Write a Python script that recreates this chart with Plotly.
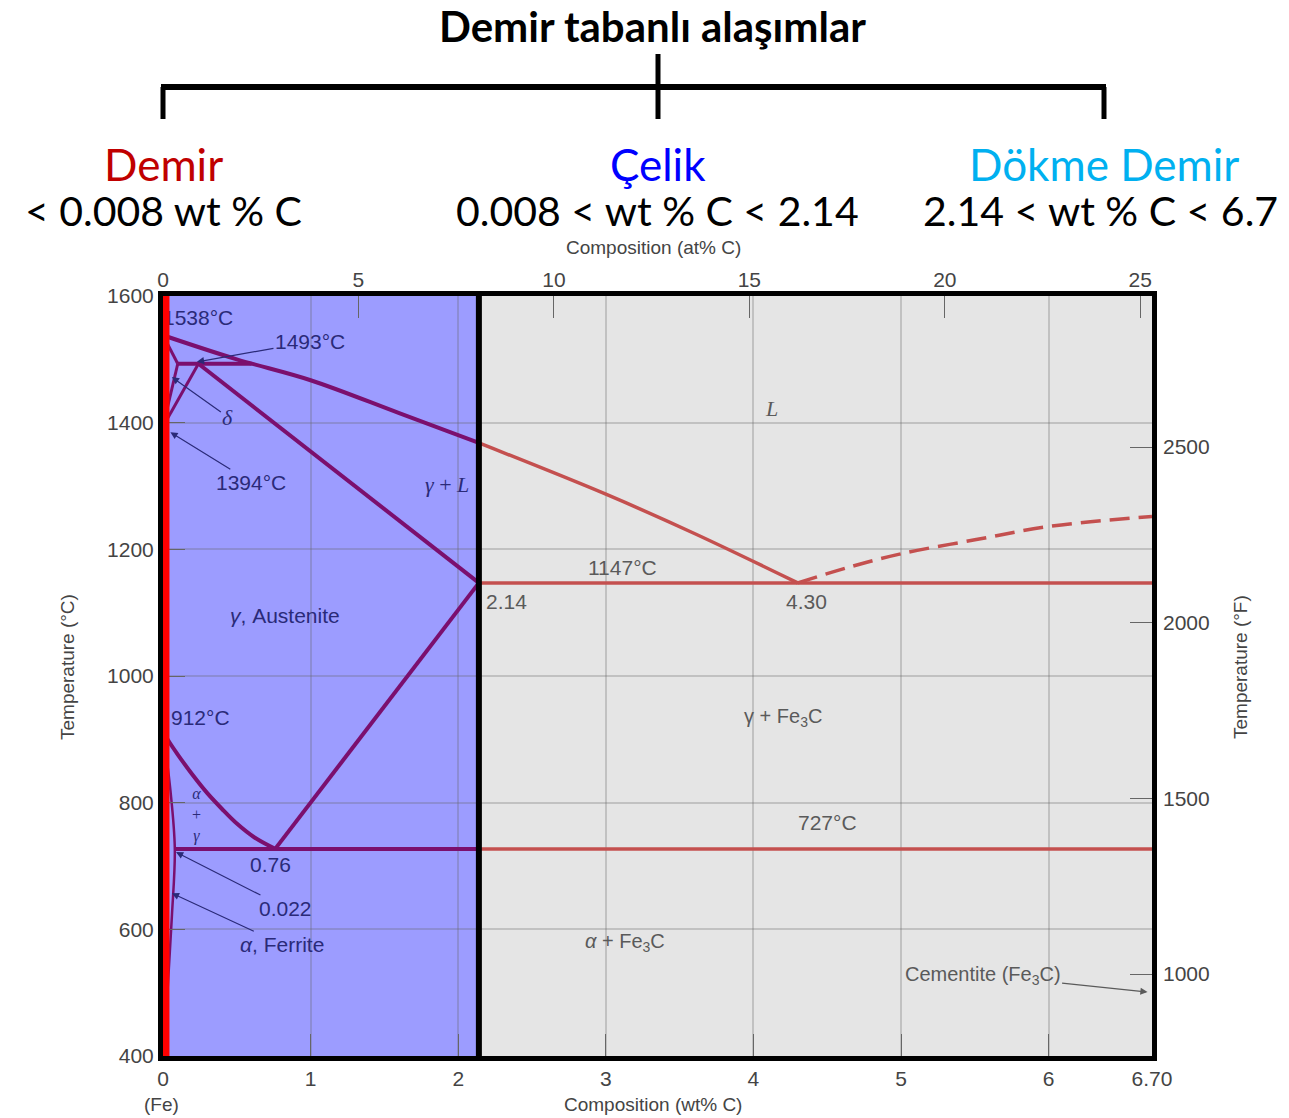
import plotly.graph_objects as go

# ---------------- data (wt% C, temperature in C) ----------------
liq_wt = [0, 0.5, 1.0, 1.6, 2.14, 3.0, 3.6, 4.30]
liq_T = [1538, 1500, 1467, 1415, 1368, 1287, 1225, 1147]
cem_liq_wt = [4.30, 4.65, 5.0, 5.5, 6.0, 6.70]
cem_liq_T = [1147, 1172, 1193, 1215, 1236, 1252]
sol_wt = [0.24, 2.14]
sol_T = [1493, 1147]
acm_wt = [0.76, 2.14]
acm_T = [727, 1147]
a3_wt = [0, 0.05, 0.1, 0.2, 0.3, 0.4, 0.5, 0.62, 0.76]
a3_T = [912, 893, 876, 844, 815, 790, 767, 745, 727]
perit_wt = [0.10, 0.60]
perit_T = [1493, 1493]
d1_wt = [0, 0.10]
d1_T = [1538, 1493]
d2_wt = [0.10, 0]
d2_T = [1493, 1394]
d3_wt = [0.24, 0]
d3_T = [1493, 1394]
eutectic_wt = [2.14, 6.70]
eutectic_T = [1147, 1147]
eutectoid_wt = [0.08, 2.14, 6.70]
eutectoid_T = [727, 727, 727]
ferr_wt = [0, 0.05, 0.08, 0.06, 0.03, 0.01]
ferr_T = [912, 820, 727, 620, 500, 400]

steel_limit = 2.14
iron_limit = 0.02

x_ticks = [0, 1, 2, 3, 4, 5, 6, 6.70]
x_ticktext = ["0", "1", "2", "3", "4", "5", "6", "6.70"]
at_ticks = [0, 5, 10, 15, 20, 25]
y_ticks = [400, 600, 800, 1000, 1200, 1400, 1600]
f_ticks = [1000, 1500, 2000, 2500]

PURPLE = "#7b0f6e"
ROSE = "#c4504f"
NAVY = "#2a2a78"
GRAYTXT = "#5a5a5a"
SANS = "Liberation Sans, Arial, sans-serif"
SERIF = "Liberation Serif, DejaVu Serif, serif"
HEAD = "Lato, Open Sans, sans-serif"

W, H = 1289, 1118
L, R, T, B = 163, 137, 296, 62


def px(x):
    return (x - L) / (W - L - R)


def py(y):
    return (H - B - y) / (H - T - B)


def split(xs, ys):
    left = [(x, y) for x, y in zip(xs, ys) if x <= steel_limit]
    right = [(x, y) for x, y in zip(xs, ys) if x >= steel_limit]
    return left, right


fig = go.Figure()


def add_line(xs, ys, width=4, dash=None, shape="linear"):
    left, right = split(xs, ys)
    if len(left) > 1:
        fig.add_trace(go.Scatter(x=[p[0] for p in left], y=[p[1] for p in left], mode="lines",
                                 line=dict(color=PURPLE, width=width, dash=dash, shape=shape),
                                 hoverinfo="skip"))
    if len(right) > 1:
        fig.add_trace(go.Scatter(x=[p[0] for p in right], y=[p[1] for p in right], mode="lines",
                                 line=dict(color=ROSE, width=width - 0.5, dash=dash, shape=shape),
                                 hoverinfo="skip"))


add_line(liq_wt, liq_T, shape="spline")
add_line(cem_liq_wt, cem_liq_T, width=4, dash="20px,9px", shape="spline")
add_line(sol_wt, sol_T)
add_line(acm_wt, acm_T)
add_line(a3_wt, a3_T, shape="spline")
add_line(perit_wt, perit_T)
add_line(d1_wt, d1_T, width=3)
add_line(d2_wt, d2_T, width=3)
add_line(d3_wt, d3_T, width=3)
add_line(eutectic_wt, eutectic_T)
add_line(eutectoid_wt, eutectoid_T)
add_line(ferr_wt, ferr_T, width=2.5, shape="spline")

# 1538 label as a trace so the red bar covers its first digit
fig.add_trace(go.Scatter(x=[0], y=[1562], mode="text", text=["1538°C"], textposition="middle right",
                         textfont=dict(family=SANS, size=21, color=NAVY), cliponaxis=False, hoverinfo="skip"))

# secondary axes traces (invisible) to activate them
fig.add_trace(go.Scatter(x=[0], y=[1600], xaxis="x2", mode="markers", marker=dict(opacity=0), hoverinfo="skip"))
fig.add_trace(go.Scatter(x=[0], y=[2000], yaxis="y2", mode="markers", marker=dict(opacity=0), hoverinfo="skip"))

# ---------------- shapes ----------------
shapes = [
    dict(type="rect", xref="x", yref="y", x0=0, x1=steel_limit, y0=400, y1=1600,
         fillcolor="#9c9cff", line=dict(width=0), layer="below"),
    dict(type="line", xref="x", yref="y", x0=steel_limit, x1=steel_limit, y0=400, y1=1600,
         line=dict(color="black", width=6), layer="above"),
    dict(type="line", xref="x", yref="y", x0=iron_limit, x1=iron_limit, y0=396, y1=1600,
         line=dict(color="#ff0000", width=7), layer="above"),
    # bracket
    dict(type="line", xref="paper", yref="paper", x0=px(161), x1=px(1106), y0=py(87), y1=py(87),
         line=dict(color="black", width=6)),
    dict(type="line", xref="paper", yref="paper", x0=px(163), x1=px(163), y0=py(87), y1=py(119),
         line=dict(color="black", width=5)),
    dict(type="line", xref="paper", yref="paper", x0=px(1104), x1=px(1104), y0=py(87), y1=py(119),
         line=dict(color="black", width=5)),
    dict(type="line", xref="paper", yref="paper", x0=px(658), x1=px(658), y0=py(54), y1=py(119),
         line=dict(color="black", width=5)),
]

# ---------------- annotations ----------------
ann = []


def txt(text, x, y, color=NAVY, size=21, family=SANS, **kw):
    d = dict(text=text, x=x, y=y, xref="x", yref="y", showarrow=False,
             xanchor="center", yanchor="middle",
             font=dict(family=family, size=size, color=color))
    d.update(kw)
    ann.append(d)


def arrow(text, x, y, ax, ay, color=NAVY, size=21, family=SANS):
    ann.append(dict(text=text, x=x, y=y, xref="x", yref="y", ax=ax, ay=ay, showarrow=True,
                    arrowhead=2, arrowsize=1.2, arrowwidth=1.2, arrowcolor=color, standoff=0,
                    font=dict(family=family, size=size, color=color)))


arrow("1493°C", 0.23, 1496, 113, -20)
arrow("<i>δ</i>", 0.06, 1472, 56, 40, family=SERIF, size=22)
arrow("1394°C", 0.05, 1385, 81, 50)
arrow("0.022", 0.088, 722, 110, 56)
arrow("<i>α</i>, Ferrite", 0.06, 657, 110, 51)
arrow("Cementite (Fe<sub>3</sub>C)", 6.67, 501, -165, -17, color=GRAYTXT, size=20)

txt("<i>γ</i> + <i>L</i>", 1.924, 1303, family=SERIF, size=22)
txt("<i>γ</i>, Austenite", 0.827, 1096)
txt("912°C", 0.257, 934)
txt("<i>α</i><br>+<br><i>γ</i>", 0.23, 781, family=SERIF, size=16)
txt("0.76", 0.73, 703)
txt("<i>L</i>", 4.12, 1423, color=GRAYTXT, family=SERIF, size=22)
txt("2.14", 2.33, 1117, color=GRAYTXT)
txt("1147°C", 3.11, 1172, color=GRAYTXT)
txt("4.30", 4.36, 1117, color=GRAYTXT)
txt("γ + Fe<sub>3</sub>C", 4.2, 934, color=GRAYTXT, size=20)
txt("727°C", 4.5, 768, color=GRAYTXT)
txt("<i>α</i> + Fe<sub>3</sub>C", 3.13, 580, color=GRAYTXT, size=20)


def ptxt(text, x, y, size, color="black", family=SANS, **kw):
    d = dict(text=text, x=px(x), y=py(y), xref="paper", yref="paper", showarrow=False,
             xanchor="center", yanchor="middle",
             font=dict(family=family, size=size, color=color))
    d.update(kw)
    ann.append(d)


ptxt("Composition (at% C)", 653, 247, 19, color="#444")
ptxt("Composition (wt% C)", 653, 1104, 19, color="#444")
ptxt("(Fe)", 161, 1104, 19, color="#444")
ptxt("Temperature (°C)", 67, 667, 19, color="#444", textangle=-90)
ptxt("Temperature (°F)", 1240, 667, 19, color="#444", textangle=-90)

ptxt("<b>Demir tabanlı alaşımlar</b>", 652, 26, 42, family=HEAD)
ptxt("Demir", 163, 164, 44, color="#c00000", family=HEAD)
ptxt("Çelik", 658, 164, 44, color="#0000ff", family=HEAD)
ptxt("Dökme Demir", 1104, 164, 44, color="#00b0f0", family=HEAD)
ptxt("< 0.008 wt % C", 163, 210, 41, family=HEAD)
ptxt("0.008 < wt % C < 2.14", 657, 210, 41, family=HEAD)
ptxt("2.14 < wt % C < 6.7", 1100, 210, 41, family=HEAD)

tickfont = dict(family=SANS, size=21, color="#444")
grid = "rgba(100,100,100,0.28)"

fig.update_layout(
    width=W, height=H, autosize=False,
    margin=dict(l=L, r=R, t=T, b=B, pad=0),
    paper_bgcolor="white", plot_bgcolor="#e5e5e5",
    showlegend=False,
    shapes=shapes, annotations=ann,
    xaxis=dict(range=[0, 6.70], tickvals=x_ticks, ticktext=x_ticktext, ticks="inside", ticklen=22,
               tickcolor="#666", tickwidth=1.2, showgrid=True, gridcolor=grid, gridwidth=1.5,
               showline=True, linecolor="black", linewidth=5, mirror=True, zeroline=False,
               tickfont=tickfont, fixedrange=True, ticklabelstandoff=0),
    xaxis2=dict(range=[0, 25.3], tickvals=at_ticks, overlaying="x", side="top", ticks="inside",
                ticklen=22, tickcolor="#666", tickwidth=1.2, showgrid=False, showline=False,
                zeroline=False, tickfont=tickfont, ticklabelstandoff=4),
    yaxis=dict(range=[400, 1600], tickvals=y_ticks, ticks="inside", ticklen=22, tickcolor="#666",
               tickwidth=1.2, showgrid=True, gridcolor=grid, gridwidth=1.5,
               minor=dict(dtick=100, ticks="inside", ticklen=6, tickcolor="#666", showgrid=False),
               showline=True, linecolor="black", linewidth=5, mirror=True, zeroline=False,
               tickfont=tickfont),
    yaxis2=dict(range=[767, 2930], tickvals=f_ticks, overlaying="y", side="right", ticks="inside",
                ticklen=22, tickcolor="#666", tickwidth=1.2, showgrid=False, showline=False,
                zeroline=False, tickfont=tickfont, ticklabelstandoff=10),
)

fig.write_html("out.html")
